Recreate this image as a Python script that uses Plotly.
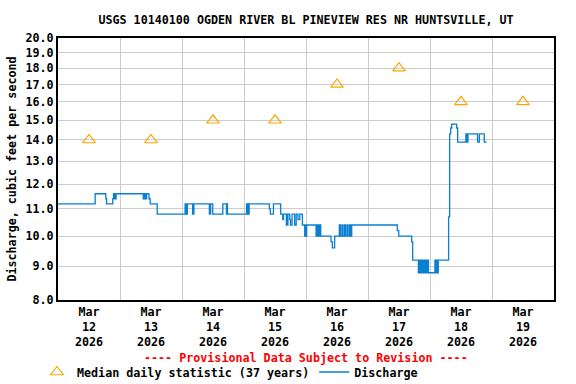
import pandas as pd
import plotly.graph_objects as go

# ---- data ----
start = pd.Timestamp("2026-03-12 00:00")
hours = [0, 14.4, 18.5, 18.8, 21.2, 21.5, 21.75, 22.0, 22.25, 22.5,
         33.0, 33.25, 33.5, 33.75, 34.0, 34.3, 35.2, 35.7, 38.4,
         49.2, 49.45, 49.7, 49.9, 50.1, 52.1, 52.6, 58.6, 59.1, 59.9,
         63.8, 65.2, 65.4, 65.6, 73.0, 73.25, 73.5, 73.75, 74.0,
         81.8, 82.2, 83.4, 86.2, 87.0, 87.3, 88.4, 88.7, 88.8, 89.0,
         89.7, 90.0, 90.6, 91.6, 92.2, 92.9, 93.6, 94.6,
         95.5, 95.75, 96.0, 96.25, 99.9, 100.2, 100.5, 100.8, 101.1, 101.4, 101.7,
         105.7, 106.2, 107.1, 108.9, 109.3, 109.9, 110.3, 110.9, 111.3, 111.9,
         112.3, 112.9, 113.2, 113.7, 131.35, 131.9, 136.9, 137.3,
         139.5, 139.8, 140.2, 140.6, 141.0, 141.4, 141.8, 142.2, 142.6, 143.0, 143.4,
         145.9, 146.2, 146.6, 146.9, 147.2, 151.2, 151.6, 152.0, 152.4,
         154.3, 154.7, 157.9, 158.1, 158.3, 158.5, 158.7, 162.4, 163.1, 165.0, 165.95]
cfs = [11.2, 11.6, 11.4, 11.2, 11.4, 11.6, 11.4, 11.6, 11.4, 11.6,
       11.4, 11.6, 11.4, 11.6, 11.4, 11.6, 11.4, 11.2, 10.8,
       11.2, 10.8, 11.2, 10.8, 11.2, 10.8, 11.2, 10.8, 11.2, 10.8,
       11.2, 10.8, 11.2, 10.8, 11.2, 10.8, 11.2, 10.8, 11.2,
       11.0, 10.8, 11.2, 10.8, 10.6, 10.8, 10.4, 10.8, 10.4, 10.8,
       10.6, 10.4, 10.8, 10.4, 10.8, 10.6, 10.8, 10.4,
       10.0, 10.4, 10.0, 10.4, 10.0, 10.4, 10.0, 10.4, 10.0, 10.4, 10.0,
       9.8, 9.6, 10.0, 10.4, 10.0, 10.4, 10.0, 10.4, 10.0, 10.4,
       10.0, 10.4, 10.0, 10.4, 10.2, 10.0, 9.8, 9.2,
       8.8, 9.2, 8.8, 9.2, 8.8, 9.2, 8.8, 9.2, 8.8, 9.2, 8.8,
       9.2, 8.8, 9.2, 8.8, 9.2, 10.7, 14.3, 14.6, 14.8,
       14.6, 13.9, 14.3, 13.9, 14.3, 13.9, 14.3, 13.9, 14.3, 13.9, 13.9]

median_days = ["2026-03-12 12:00", "2026-03-13 12:00", "2026-03-14 12:00", "2026-03-15 12:00",
               "2026-03-16 12:00", "2026-03-17 12:00", "2026-03-18 12:00", "2026-03-19 12:00"]
median_cfs = [14, 14, 15, 15, 17, 18, 16, 16]

tick_labels = ["Mar<br>12<br>2026", "Mar<br>13<br>2026", "Mar<br>14<br>2026", "Mar<br>15<br>2026",
               "Mar<br>16<br>2026", "Mar<br>17<br>2026", "Mar<br>18<br>2026", "Mar<br>19<br>2026"]
day_bounds = ["2026-03-13", "2026-03-14", "2026-03-15", "2026-03-16",
              "2026-03-17", "2026-03-18", "2026-03-19"]
y_ticks = [8, 9, 10, 11, 12, 13, 14, 15, 16, 17, 18, 19, 20]

times = [start + pd.to_timedelta(h, unit="h") for h in hours]

FONT = "DejaVu Sans Mono"
FS = 11.7

fig = go.Figure()
fig.add_trace(go.Scatter(
    x=median_days, y=median_cfs, mode="markers",
    name="Median daily statistic (37 years)",
    marker=dict(symbol="triangle-up-open", size=11, color="#FFA500", line=dict(width=1.2, color="#FFA500")),
))
fig.add_trace(go.Scatter(
    x=times, y=cfs, mode="lines", name="Discharge",
    line=dict(shape="hv", color="#0A7FCF", width=1.3),
))

fig.update_layout(
    width=576, height=384,
    margin=dict(l=58, r=22, t=38, b=84, autoexpand=False),
    paper_bgcolor="white", plot_bgcolor="white",
    font=dict(family=FONT, size=FS, color="black", weight="bold"),
    title=dict(text="USGS 10140100 OGDEN RIVER BL PINEVIEW RES NR HUNTSVILLE, UT",
               x=306/576, xanchor="center", y=1-20/384, yanchor="middle",
               font=dict(family=FONT, size=FS, color="black", weight="bold")),
    showlegend=True,
    legend=dict(orientation="h", x=37/576, xref="container", xanchor="left",
                y=12/384, yref="container", yanchor="middle",
                font=dict(family=FONT, size=FS, color="black", weight="bold"),
                itemwidth=30, tracegroupgap=0, bgcolor="rgba(0,0,0,0)"),
)

fig.update_xaxes(
    type="date", automargin=False,
    range=["2026-03-12 00:00", "2026-03-20 00:00"],
    tickmode="array", tickvals=median_days, ticktext=tick_labels,
    showgrid=False, ticks="",
    showline=True, linecolor="black", linewidth=2, mirror=True,
    minor=dict(tickmode="array", tickvals=day_bounds, showgrid=True, gridcolor="#CCCCCC", gridwidth=1, ticks=""),
    tickfont=dict(family=FONT, size=FS, color="black", weight="bold"),
    zeroline=False,
)
fig.update_yaxes(
    type="log", automargin=False,
    range=[0.90309, 1.30103],
    tickmode="array", tickvals=y_ticks, ticktext=[f"{v:.1f}" for v in y_ticks],
    showgrid=True, gridcolor="#CCCCCC", gridwidth=1,
    showline=True, linecolor="black", linewidth=2, mirror=True,
    ticks="", ticklen=0,
    title=dict(text="Discharge, cubic feet per second", standoff=6,
               font=dict(family=FONT, size=FS, color="black", weight="bold")),
    tickfont=dict(family=FONT, size=FS, color="black", weight="bold"),
    zeroline=False,
)

fig.add_annotation(
    text="---- Provisional Data Subject to Revision ----",
    xref="paper", yref="paper", x=0.5, y=-58/262, xanchor="center", yanchor="middle",
    showarrow=False, font=dict(family=FONT, size=FS, color="red", weight="bold"),
)

fig.write_html("out.html", config={"displayModeBar": False},
               post_script="document.body.style.margin='0';")
